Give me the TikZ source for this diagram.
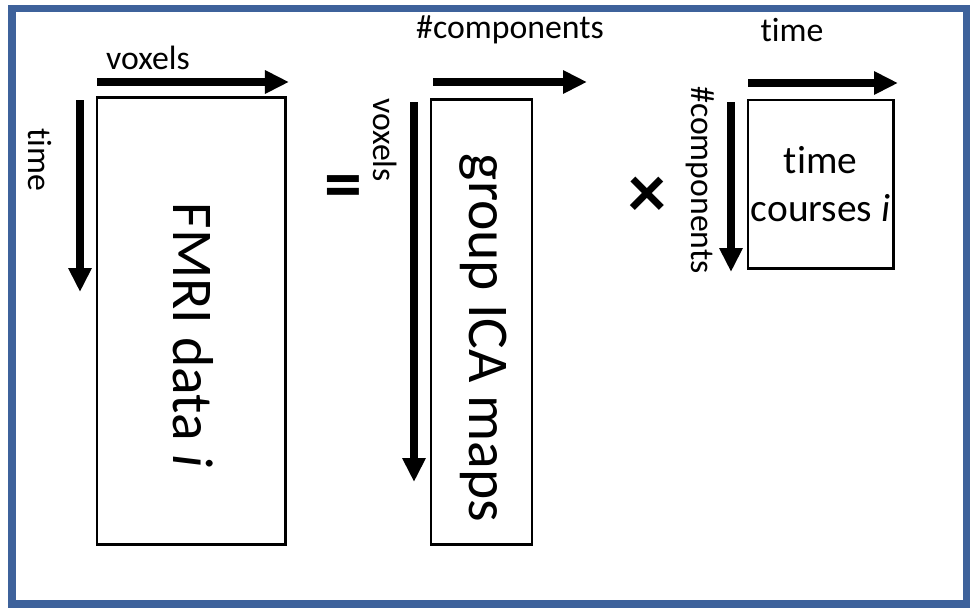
\documentclass[tikz,border=0pt]{standalone}
\usepackage{fontspec}
\setmainfont[Ligatures=NoCommon]{Carlito}
\usetikzlibrary{arrows.meta}
\definecolor{marco}{RGB}{62,98,155}
\begin{document}
\begin{tikzpicture}[x=0.025cm, y=-0.025cm,
        caja/.style={draw, line width=2.1pt, inner sep=0pt, align=center},
        flecha/.style={-{Triangle[length=0.6cm, width=0.55cm]}, line width=5pt},
        etiqueta/.style={font=\fontsize{24}{26}\selectfont, inner sep=0pt},
        grande/.style={font=\fontsize{41}{44}\selectfont, inner sep=0pt, rotate=-90}
    ]
    \useasboundingbox (0,0) rectangle (971,607);
    \draw[marco, line width=5pt] (12,8.5) rectangle (966.5,604);

    % matrices
    \node[caja, minimum width=4.7cm, minimum height=11.15cm] (F) at (191,321) {};
    \node[caja, minimum width=2.525cm, minimum height=11.1cm] (G) at (481.5,322) {};
    \node[caja, minimum width=3.625cm, minimum height=4.2cm, font=\fontsize{28}{34}\selectfont] (T) at (820.5,184) {time\\courses \textit{i}};

    \node[grande] (Ft) at (193,335) {FMRI data \textit{i}};
    \node[grande] (Gt) at (483,338) {group ICA maps};

    % ejes
    \coordinate (a1) at (97,82);   \coordinate (b1) at (289,82);
    \coordinate (a2) at (433,82);  \coordinate (b2) at (587,82);
    \coordinate (a3) at (748,83);  \coordinate (b3) at (898,83);
    \coordinate (c1) at (80,100);  \coordinate (d1) at (80,292);
    \coordinate (c2) at (414,102); \coordinate (d2) at (414,482);
    \coordinate (c3) at (731,102); \coordinate (d3) at (731,272);

    \draw[flecha] (a1) -- (b1);
    \draw[flecha] (a2) -- (b2);
    \draw[flecha] (a3) -- (b3);
    \draw[flecha] (c1) -- (d1);
    \draw[flecha] (c2) -- (d2);
    \draw[flecha] (c3) -- (d3);

    \node[etiqueta] (e1) at (148,58) {voxels};
    \node[etiqueta] (e2) at (510,30) {\#components};
    \node[etiqueta] (e3) at (792,30) {time};
    \node[etiqueta, rotate=-90] (e4) at (40,160) {time};
    \node[etiqueta, rotate=-90] (e5) at (385,140) {voxels};
    \node[etiqueta, rotate=-90] (e6) at (700,180) {\#components};

    % operadores
    \node[font=\fontsize{54}{54}\selectfont\bfseries, inner sep=0pt] (igual) at (343,193) {=};
    \node[font=\fontsize{54}{54}\selectfont\bfseries, inner sep=0pt] (por) at (647,197) {×};
\end{tikzpicture}
\end{document}
